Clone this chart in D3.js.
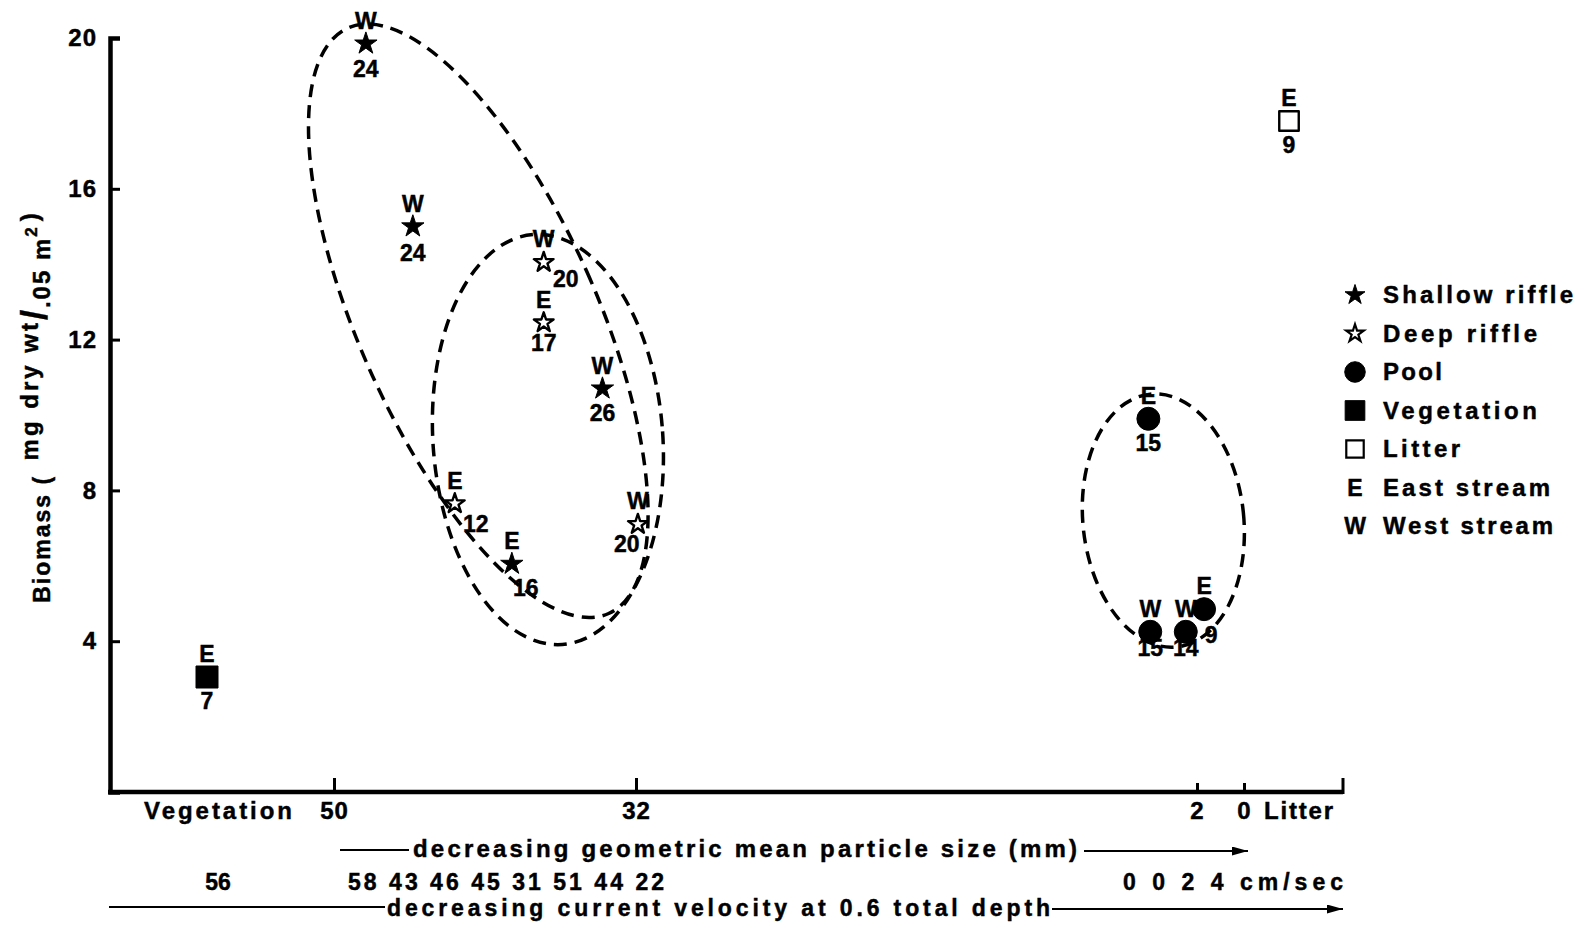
<!DOCTYPE html>
<html>
<head>
<meta charset="utf-8">
<script src="https://cdn.jsdelivr.net/npm/d3@7"></script>
<style>
body{margin:0;background:#fff;}
svg{display:block;font-family:"Liberation Sans",Arial,sans-serif;font-weight:bold;}
svg text{fill:#000;stroke:#000;stroke-width:0.45px;}
</style>
</head>
<body>
<svg id="chart" width="1583" height="925"></svg>
<script>
// ---- data ----
// size = geometric mean particle size (mm), biomass = mg dry wt / .05 m2
var shallowRiffle = [
	{stream:'W', size:48.1, biomass:19.85, n:24},
	{stream:'W', size:45.3, biomass:15.0, n:24},
	{stream:'W', size:34.0, biomass:10.7, n:26},
	{stream:'E', size:39.4, biomass:6.05, n:16}
];
var deepRiffle = [
	{stream:'W', size:37.5, biomass:14.05, n:20},
	{stream:'E', size:37.5, biomass:12.45, n:17},
	{stream:'E', size:42.8, biomass:7.65, n:12},
	{stream:'W', size:31.9, biomass:7.1, n:20}
];
var pool = [
	{stream:'E', size:4.6, biomass:9.9, n:15},
	{stream:'W', size:4.5, biomass:4.25, n:15},
	{stream:'W', size:2.6, biomass:4.25, n:14},
	{stream:'E', size:1.7, biomass:4.85, n:9}
];
var vegetation = [{stream:'E', biomass:3.05, n:7}];
var litter = [{stream:'E', biomass:17.8, n:9}];

var yTicks = [4, 8, 12, 16, 20];
var sizeTicks = [50, 32, 2, 0];
var categories = ['Vegetation', 'Litter'];
var velocityVeg = [56];
var velocityRiffle = [58, 43, 46, 45, 31, 51, 44, 22];
var velocityPool = [0, 0, 2, 4];
var legendLabels = ['Shallow riffle', 'Deep riffle', 'Pool', 'Vegetation', 'Litter', 'East stream', 'West stream'];
var streamKeys = ['E', 'W'];

// dashed groupings: centre and radii in data units, tilt in degrees
var groups = [
	{size:41.4, biomass:12.5, rSize:7.1, rBiomass:8.5, tilt:-24},
	{size:37.25, biomass:9.35, rSize:6.85, rBiomass:5.45, tilt:-4},
	{size:3.8, biomass:7.2, rSize:4.3, rBiomass:3.37, tilt:-6}
];

// ---- layout ----
var svg = d3.select('#chart');
var axisX0 = 110, axisX1 = 1343, axisY = 792;

var y = d3.scaleLinear().domain([0, 20]).range([axisY, 38]);
// the size axis is broken, so it is piecewise linear
var x = d3.scaleLinear().domain(sizeTicks).range([334, 636, 1197, 1244]);
var xCat = d3.scaleOrdinal().domain(categories).range([207, 1289]);

svg.append('defs').append('marker')
	.attr('id','arrow')
	.attr('viewBox','0 0 10 10')
	.attr('refX',10).attr('refY',5)
	.attr('markerUnits','userSpaceOnUse')
	.attr('markerWidth',16).attr('markerHeight',9)
	.attr('preserveAspectRatio','none')
	.attr('orient','auto')
	.append('path').attr('d','M0,0L10,5L0,10z').attr('fill','#000');

// y axis
var gy = svg.append('g')
	.attr('transform','translate('+axisX0+',0)')
	.call(d3.axisLeft(y).tickValues(yTicks).tickSize(-10).tickSizeOuter(-10).tickPadding(13));
gy.select('.domain').attr('stroke-width',4.5);
gy.selectAll('.tick line').attr('stroke-width',3);
gy.selectAll('.tick text')
	.attr('font-size',24).attr('font-weight','bold')
	.attr('font-family','"Liberation Sans",Arial,sans-serif')
	.attr('letter-spacing',1);

// x axis
var gx = svg.append('g')
	.attr('transform','translate(0,'+axisY+')')
	.call(d3.axisBottom(x).tickValues(sizeTicks).tickSize(-13).tickSizeOuter(0).tickPadding(10));
gx.select('.domain').remove();
gx.selectAll('.tick line').attr('stroke-width',3).attr('y2',function(d){ return d < 10 ? -9 : -14; });
gx.selectAll('.tick text')
	.attr('font-size',24).attr('font-weight','bold')
	.attr('font-family','"Liberation Sans",Arial,sans-serif')
	.attr('letter-spacing',1);
svg.append('line')
	.attr('x1',axisX0-2).attr('x2',axisX1).attr('y1',axisY).attr('y2',axisY)
	.attr('stroke','#000').attr('stroke-width',4.5);
svg.append('line')
	.attr('x1',axisX1).attr('x2',axisX1).attr('y1',axisY+2).attr('y2',axisY-14)
	.attr('stroke','#000').attr('stroke-width',3);

svg.append('text')
	.attr('x',xCat('Vegetation')+11).attr('y',819)
	.attr('text-anchor','middle').attr('font-size',24)
	.attr('textLength',148).attr('lengthAdjust','spacing')
	.text('Vegetation');
svg.append('text')
	.attr('x',x(0)+20).attr('y',819)
	.attr('font-size',24)
	.attr('textLength',69).attr('lengthAdjust','spacing')
	.text('Litter');

// y axis title, "mg dry wt" over ".05 m2"
var yt = svg.append('text')
	.attr('transform','translate(50,407) rotate(-90)')
	.attr('text-anchor','middle')
	.attr('letter-spacing',2);
yt.append('tspan').attr('font-size',23).text('Biomass ( ');
yt.append('tspan').attr('font-size',24).attr('dx',6).attr('dy',-12).attr('letter-spacing',3).text('mg dry wt');
yt.append('tspan').attr('font-size',36).attr('dy',9).text('/');
yt.append('tspan').attr('font-size',24).attr('dy',3).text('.05 m');
yt.append('tspan').attr('font-size',17).attr('dy',-13).text('2');
yt.append('tspan').attr('font-size',24).attr('dx',4).attr('dy',1).text(')');

// dashed groupings
svg.selectAll('ellipse.group')
	.data(groups)
	.join('ellipse')
	.attr('class','group')
	.attr('cx',function(d){ return x(d.size); })
	.attr('cy',function(d){ return y(d.biomass); })
	.attr('rx',function(d){ return x(d.size) - x(d.size + d.rSize); })
	.attr('ry',function(d){ return y(d.biomass - d.rBiomass) - y(d.biomass); })
	.attr('transform',function(d){ return 'rotate('+d.tilt+','+x(d.size)+','+y(d.biomass)+')'; })
	.attr('fill','none').attr('stroke','#000')
	.attr('stroke-width',3.5).attr('stroke-dasharray','13,8');

// symbols
var sym = {
	'Shallow riffle': {type:d3.symbolStar, size:155, fill:'#000'},
	'Deep riffle': {type:d3.symbolStar, size:120, fill:'#fff'},
	'Pool': {type:d3.symbolCircle, size:415, fill:'#000'},
	'Vegetation': {type:d3.symbolSquare, size:484, fill:'#000'},
	'Litter': {type:d3.symbolSquare, size:380, fill:'#fff'}
};

// label offsets [number dx, number dy] for each point, letter sits above
var numberNudge = {
	'Shallow riffle': [[0,33],[0,34],[0,32],[14,32]],
	'Deep riffle': [[22,25],[0,28],[21,28],[-11,28]],
	'Pool': [[0,32],[0,24],[0,24],[7,34]],
	'Vegetation': [[0,32]],
	'Litter': [[0,32]]
};

var samples = [
	['Shallow riffle', shallowRiffle],
	['Deep riffle', deepRiffle],
	['Pool', pool],
	['Vegetation', vegetation],
	['Litter', litter]
];

samples.forEach(function(s){
	var hab = s[0], st = sym[hab];
	var px = function(d){ return d.size != null ? x(d.size) : xCat(hab); };
	var pts = svg.append('g').selectAll('g').data(s[1]).join('g')
		.attr('transform',function(d){ return 'translate('+px(d)+','+y(d.biomass)+')'; });
	pts.append('path')
		.attr('d',d3.symbol(st.type, st.size))
		.attr('fill',st.fill).attr('stroke','#000')
		.attr('stroke-width',st.fill == '#fff' ? 2.4 : 1)
		.attr('stroke-linejoin','round');
	pts.append('text')
		.attr('y',-15).attr('text-anchor','middle').attr('font-size',23)
		.text(function(d){ return d.stream; });
	pts.append('text')
		.attr('x',function(d,i){ return numberNudge[hab][i][0]; })
		.attr('y',function(d,i){ return numberNudge[hab][i][1]; })
		.attr('text-anchor','middle').attr('font-size',23)
		.text(function(d){ return d.n; });
});

// legend
var lg = svg.append('g').attr('transform','translate(1355,303)');
var rows = lg.selectAll('g').data(legendLabels).join('g')
	.attr('transform',function(d,i){ return 'translate(0,'+(i*38.5)+')'; });
rows.each(function(d,i){
	var r = d3.select(this);
	if(sym[d]){
		var st = sym[d];
		r.append('path')
			.attr('transform','translate(0,-8)')
			.attr('d',d3.symbol(st.type, st.size*0.8))
			.attr('fill',st.fill).attr('stroke','#000')
			.attr('stroke-width',st.fill == '#fff' ? 2.2 : 1);
	} else {
		r.append('text').attr('text-anchor','middle').attr('font-size',23)
			.text(streamKeys[i - 5]);
	}
});
var legendWidths = [190, 154, 59, 154, 77, 167, 170];
rows.append('text')
	.attr('x',28).attr('font-size',24)
	.attr('textLength',function(d,i){ return legendWidths[i]; })
	.attr('lengthAdjust','spacing')
	.text(function(d){ return d; });

// particle size caption with arrows
svg.append('line')
	.attr('x1',340).attr('x2',409).attr('y1',850).attr('y2',850)
	.attr('stroke','#000').attr('stroke-width',2);
svg.append('text')
	.attr('x',413).attr('y',857).attr('font-size',24)
	.attr('textLength',664).attr('lengthAdjust','spacing')
	.text('decreasing geometric mean particle size (mm)');
svg.append('line')
	.attr('x1',1084).attr('x2',1248).attr('y1',851).attr('y2',851)
	.attr('stroke','#000').attr('stroke-width',2)
	.attr('marker-end','url(#arrow)');

// velocities
svg.append('text')
	.attr('x',xCat('Vegetation')+11).attr('y',890)
	.attr('text-anchor','middle').attr('font-size',23)
	.text(velocityVeg.join(' '));
svg.append('text')
	.attr('x',x(50)+14).attr('y',890).attr('font-size',23)
	.attr('textLength',316).attr('lengthAdjust','spacing')
	.text(velocityRiffle.join(' '));
svg.append('text')
	.attr('x',1123).attr('y',890).attr('font-size',23)
	.attr('textLength',220).attr('lengthAdjust','spacing')
	.text(velocityPool.join(' ') + '  cm/sec');

svg.append('line')
	.attr('x1',axisX0-1).attr('x2',385).attr('y1',907).attr('y2',907)
	.attr('stroke','#000').attr('stroke-width',2);
svg.append('text')
	.attr('x',387).attr('y',916).attr('font-size',23)
	.attr('textLength',663).attr('lengthAdjust','spacing')
	.text('decreasing current velocity at 0.6 total depth');
svg.append('line')
	.attr('x1',1052).attr('x2',axisX1).attr('y1',909).attr('y2',909)
	.attr('stroke','#000').attr('stroke-width',2)
	.attr('marker-end','url(#arrow)');
</script>
</body>
</html>
